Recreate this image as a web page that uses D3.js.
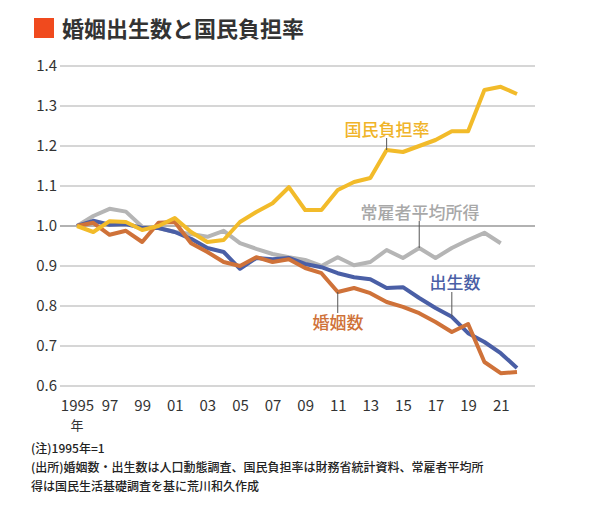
<!DOCTYPE html>
<html><head><meta charset="utf-8">
<script src="https://cdn.jsdelivr.net/npm/d3@7/dist/d3.min.js"></script>
<style>
html,body{margin:0;padding:0;background:#fff;}
svg{display:block;}
text{font-family:"Noto Sans CJK JP","Liberation Sans",sans-serif;}
</style></head>
<body>
<svg id="c" width="610" height="517"></svg>
<script>
const years = d3.range(1995, 2023);
const tickYears = [1995,1997,1999,2001,2003,2005,2007,2009,2011,2013,2015,2017,2019,2021];
const tickLabels = ["1995","97","99","01","03","05","07","09","11","13","15","17","19","21"];
const yTicks = [0.6,0.7,0.8,0.9,1.0,1.1,1.2,1.3,1.4];
const burden = [1.0,0.985,1.012,1.01,0.99,1.0,1.02,0.985,0.96,0.965,1.01,1.035,1.057,1.097,1.04,1.04,1.09,1.11,1.12,1.19,1.185,1.2,1.215,1.237,1.237,1.34,1.348,1.33];
const income = [1.0,1.025,1.043,1.036,0.998,0.995,0.985,0.98,0.973,0.988,0.957,0.943,0.93,0.922,0.915,0.9,0.922,0.902,0.91,0.94,0.92,0.945,0.92,0.945,0.965,0.983,0.957];
const births = [1.0,1.013,1.003,1.005,0.995,0.995,0.985,0.968,0.945,0.935,0.893,0.92,0.917,0.92,0.905,0.897,0.882,0.872,0.867,0.845,0.847,0.82,0.795,0.773,0.732,0.71,0.682,0.645];
const marriages = [1.0,1.008,0.978,0.988,0.96,1.008,1.01,0.957,0.935,0.91,0.9,0.922,0.91,0.917,0.895,0.882,0.835,0.845,0.832,0.81,0.798,0.782,0.76,0.735,0.755,0.66,0.632,0.635];

const svg = d3.select("#c");
const x = d3.scaleLinear().domain([1995,2022]).range([77,517]);
const y = d3.scaleLinear().domain([0.6,1.4]).range([386,66]);

// title
svg.append("rect").attr("x",34).attr("y",18).attr("width",20).attr("height",20).attr("fill","#f04a1e");
svg.append("text").attr("x",62).attr("y",37).attr("font-size",22).attr("font-weight",700).attr("fill","#333").text("婚姻出生数と国民負担率");

// grid
svg.append("g").selectAll("line").data(yTicks).join("line")
  .attr("x1",60).attr("x2",535).attr("y1",d=>y(d)).attr("y2",d=>y(d))
  .attr("stroke",d=>d===1.0?"#999":"#c8c8c8").attr("stroke-width",1.3);

// y axis labels
const yAxis = d3.axisLeft(y).tickValues(yTicks).tickFormat(d3.format(".1f")).tickSize(0).tickPadding(0);
svg.append("g").attr("transform","translate(57,0)").call(yAxis)
  .call(g=>g.select(".domain").remove())
  .call(g=>g.selectAll("text").attr("font-size",15).attr("fill","#333").attr("font-family","Liberation Sans, sans-serif"));

// x axis labels
const xAxis = d3.axisBottom(x).tickValues(tickYears).tickFormat((d,i)=>tickLabels[i]).tickSize(0).tickPadding(0);
svg.append("g").attr("transform","translate(0,400)").call(xAxis)
  .call(g=>g.select(".domain").remove())
  .call(g=>g.selectAll("text").attr("font-size",15).attr("fill","#333").attr("font-family","Liberation Sans, sans-serif"));
svg.append("text").attr("x",x(1995)).attr("y",430).attr("text-anchor","middle").attr("font-size",13).attr("fill","#333").text("年");

// lines
const line = d3.line().x((d,i)=>x(1995+i)).y(d=>y(d));
const series = [
  {data:income,color:"#b5b5b5"},
  {data:births,color:"#4a5fa6"},
  {data:marriages,color:"#cf7239"},
  {data:burden,color:"#f2bb2a"}
];
svg.append("g").selectAll("path").data(series).join("path")
  .attr("d",d=>line(d.data)).attr("fill","none").attr("stroke",d=>d.color)
  .attr("stroke-width",4).attr("stroke-linejoin","round");

// leader lines
const leaders = [
  {yr:2014,v:burden[19],y0:138},
  {yr:2016,v:income[21],y0:221},
  {yr:2018,v:births[23],y0:292},
  {yr:2011,v:marriages[16],y0:313}
];
svg.append("g").selectAll("line").data(leaders).join("line")
  .attr("x1",d=>x(d.yr)).attr("x2",d=>x(d.yr))
  .attr("y1",d=>d.y0).attr("y2",d=>y(d.v))
  .attr("stroke","#555").attr("stroke-width",1);

// series labels
const labels = [
  {t:"国民負担率",x:387,y:136,c:"#f0b429"},
  {t:"常雇者平均所得",x:420,y:219,c:"#a8a8a8"},
  {t:"出生数",x:455,y:289,c:"#4a5fa6"},
  {t:"婚姻数",x:338,y:329,c:"#cf7239"}
];
svg.append("g").selectAll("text").data(labels).join("text")
  .attr("x",d=>d.x).attr("y",d=>d.y).attr("text-anchor","middle")
  .attr("font-size",17).attr("font-weight",500).attr("fill",d=>d.c).text(d=>d.t);

// notes
const notes = ["(注)1995年=1",
 "(出所)婚姻数・出生数は人口動態調査、国民負担率は財務省統計資料、常雇者平均所",
 "得は国民生活基礎調査を基に荒川和久作成"];
svg.append("g").selectAll("text").data(notes).join("text")
  .attr("x",31).attr("y",(d,i)=>453+i*19).attr("font-size",12).attr("font-weight",500).attr("fill","#222").text(d=>d);
</script>
</body></html>
